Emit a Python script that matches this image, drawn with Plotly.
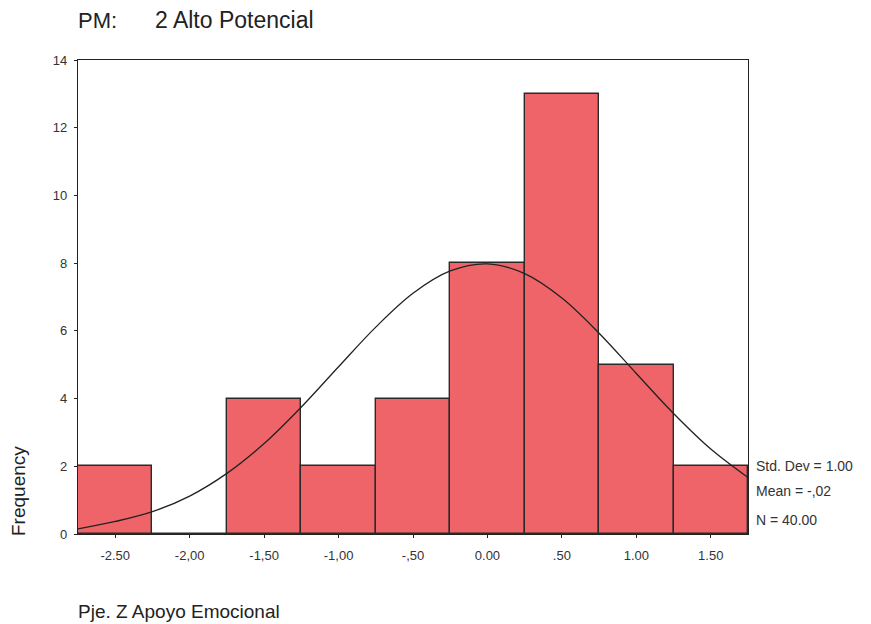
import plotly.graph_objects as go

# histogram bins (midpoints) and counts
bin_mid = [-2.5, -2.0, -1.5, -1.0, -0.5, 0.0, 0.5, 1.0, 1.5]
counts = [2, 0, 4, 2, 4, 8, 13, 5, 2]

# fitted normal curve
curve_x = [-2.75, -2.5, -2.25, -2.0, -1.75, -1.5, -1.25, -1.0, -0.75, -0.5,
           -0.25, 0.0, 0.25, 0.5, 0.75, 1.0, 1.25, 1.5, 1.75]
curve_y = [0.15, 0.37, 0.66, 1.12, 1.79, 2.67, 3.75, 4.94, 6.11, 7.11,
           7.77, 7.98, 7.69, 6.97, 5.93, 4.74, 3.56, 2.51, 1.67]

tick_vals = [-2.5, -2.0, -1.5, -1.0, -0.5, 0.0, 0.5, 1.0, 1.5]
tick_text = ["-2.50", "-2,00", "-1,50", "-1,00", "-,50", "0.00", ".50", "1.00", "1.50"]
stats = ["Std. Dev = 1.00", "Mean = -,02", "N = 40.00"]
stats_y = [2.0, 1.27, 0.41]

FONT = "Arial, Liberation Sans, sans-serif"

fig = go.Figure()
fig.add_trace(go.Bar(x=bin_mid, y=counts, width=0.5,
                     marker=dict(color="#ef6468", line=dict(color="#2a2a2a", width=1.4)),
                     showlegend=False))
fig.add_trace(go.Scatter(x=curve_x, y=curve_y, mode="lines", line_shape="spline",
                         line=dict(color="#222222", width=1.3), showlegend=False))

for txt, yy in zip(stats, stats_y):
    fig.add_annotation(x=1.0, xref="paper", xshift=6, y=yy, yref="y", text=txt,
                       showarrow=False, xanchor="left",
                       font=dict(family=FONT, size=14, color="#333"))

fig.add_annotation(x=0, xref="paper", xshift=-2, y=1, yref="paper", yshift=40,
                   text="PM:", showarrow=False, xanchor="left", yanchor="middle",
                   font=dict(family=FONT, size=22, color="#222"))
fig.add_annotation(x=0, xref="paper", xshift=75, y=1, yref="paper", yshift=40,
                   text="2 Alto Potencial", showarrow=False, xanchor="left",
                   yanchor="middle", font=dict(family=FONT, size=23, color="#222"))
fig.add_annotation(x=0, xref="paper", xshift=-2, y=0, yref="paper", yshift=-77,
                   text="Pje. Z Apoyo Emocional", showarrow=False,
                   xanchor="left", yanchor="middle",
                   font=dict(family=FONT, size=19, color="#222"))
fig.add_annotation(x=0, xref="paper", xshift=-60, y=0, yref="paper", yshift=43,
                   text="Frequency", textangle=-90, showarrow=False,
                   xanchor="center", yanchor="middle",
                   font=dict(family=FONT, size=19, color="#222"))

fig.update_xaxes(range=[-2.75, 1.75], tickvals=tick_vals, ticktext=tick_text,
                 showgrid=False, zeroline=False, showline=True, mirror=True,
                 linecolor="#222", linewidth=1.4, ticks="outside", ticklen=3,
                 tickcolor="#222", ticklabelstandoff=6,
                 tickfont=dict(family=FONT, size=13, color="#333"))
fig.update_yaxes(range=[0, 14], dtick=2, showgrid=False, zeroline=False,
                 showline=True, mirror=True, linecolor="#222", linewidth=1.4,
                 ticks="outside", ticklen=3, tickcolor="#222", ticklabelstandoff=4,
                 tickfont=dict(family=FONT, size=13, color="#333"))
fig.update_layout(width=863, height=616, plot_bgcolor="white", paper_bgcolor="white",
                  bargap=0, margin=dict(l=70, r=123, t=52, b=90))
fig.write_html("out.html")
